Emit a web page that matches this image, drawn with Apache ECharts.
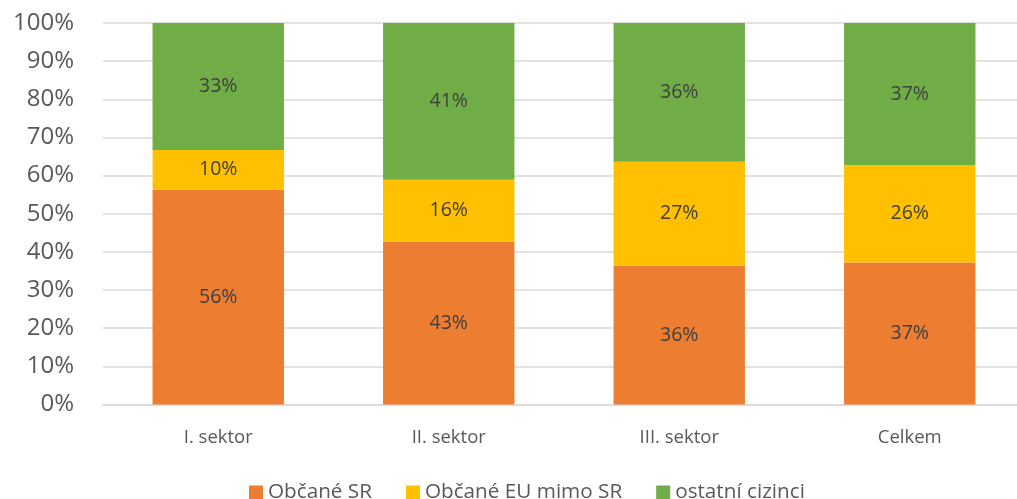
<!DOCTYPE html>
<html>
<head>
<meta charset="utf-8">
<script src="https://cdn.jsdelivr.net/npm/echarts@6/dist/echarts.min.js"></script>
<style>
  html, body { margin: 0; padding: 0; background: #fff; }
  #chart { width: 1017px; height: 499px; }
</style>
</head>
<body>
<div id="chart"></div>
<script>
// Share of workers by citizenship in each sector (percent of total)
const categories = ['I. sektor', 'II. sektor', 'III. sektor', 'Celkem'];
const seriesNames = ['Občané SR', 'Občané EU mimo SR', 'ostatní cizinci'];
const obcaneSR = [56.3, 42.7, 36.4, 37.2];
const obcaneEU = [10.4, 16.2, 27.2, 25.6];
const ostatni = [33.3, 41.1, 36.4, 37.2];
const colors = ['#ED7D31', '#FFC000', '#70AD47'];

const font = 'Open Sans, Liberation Sans, sans-serif';

function makeSeries(name, data, color) {
  return {
    name: name,
    type: 'bar',
    stack: 'total',
    barCategoryGap: '43%',
    data: data,
    itemStyle: { color: color },
    label: {
      show: true,
      position: 'inside',
      formatter: p => Math.round(p.value) + '%',
      color: '#404040',
      fontFamily: font,
      fontSize: 19.5
    }
  };
}

const chart = echarts.init(document.getElementById('chart'));
chart.setOption({
  animation: false,
  textStyle: { fontFamily: font },
  grid: { left: 103, top: 23, width: 922, height: 381.5, outerBoundsMode: 'none', containLabel: false },
  legend: {
    top: 477,
    left: 244,
    padding: 5,
    itemWidth: 14,
    itemHeight: 14,
    itemGap: 34,
    icon: 'rect',
    textStyle: { color: '#595959', fontSize: 20.7, fontFamily: font },
    data: seriesNames
  },
  xAxis: {
    type: 'category',
    data: categories,
    axisLine: { lineStyle: { color: '#d9d9d9', width: 1.5 } },
    axisTick: { show: false },
    axisLabel: { color: '#595959', fontSize: 18.5, margin: 24, fontFamily: font }
  },
  yAxis: {
    type: 'value',
    min: 0,
    max: 100,
    interval: 10,
    axisLine: { show: false },
    axisTick: { show: false },
    splitLine: { lineStyle: { color: '#d9d9d9', width: 1.5 } },
    axisLabel: {
      color: '#595959',
      fontSize: 24,
      margin: 29,
      fontFamily: font,
      formatter: v => v + '%'
    }
  },
  series: [
    makeSeries(seriesNames[0], obcaneSR, colors[0]),
    makeSeries(seriesNames[1], obcaneEU, colors[1]),
    makeSeries(seriesNames[2], ostatni, colors[2])
  ]
});
</script>
</body>
</html>
